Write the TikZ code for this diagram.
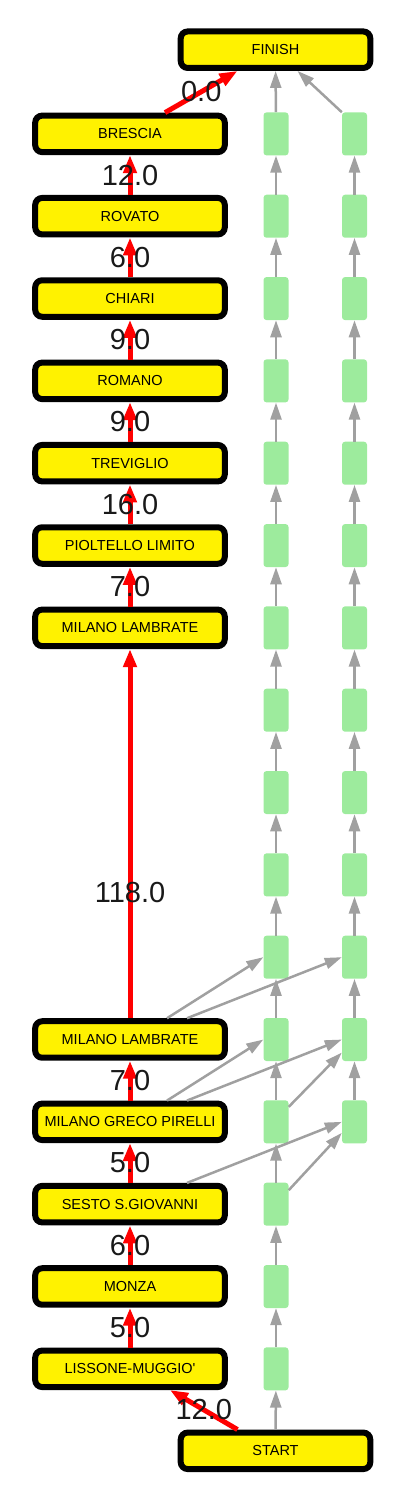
\documentclass[tikz,border=0pt]{standalone}
\usepackage{fontspec}
\setmainfont{Liberation Sans}
\usetikzlibrary{arrows.meta,positioning}
\definecolor{slotgreen}{RGB}{157,235,157}
\definecolor{linkgray}{RGB}{160,160,160}
\tikzset{
    %Define style for station boxes
    station/.style={
           rectangle,
           rounded corners=7pt,
           draw=black, line width=6pt,
           fill=yellow,
           minimum width=189.6pt,
           minimum height=36.5pt,
           text centered,
           font=\fontsize{14.5}{16}\selectfont},
    % Define style for the small boxes
    slot/.style={rectangle,rounded corners=3pt,fill=slotgreen,minimum width=25pt,minimum height=43pt,inner sep=0pt},
    % Define arrow styles
    route/.style={
	   ->,
	   >={Triangle[length=18pt,width=13pt]},
	   color=red,
           line width=5pt},
    link/.style={
	   ->,
	   >={Triangle[length=17pt,width=11pt]},
	   color=linkgray,
           line width=2.5pt},
    dist/.style={font=\fontsize{29}{30}\selectfont,text=black!90}
}

\begin{document}
\begin{tikzpicture}[x=1pt,y=1pt,node distance=39.83pt]
  \useasboundingbox (0,0) rectangle (412,-1497);
  % green boxes
  \foreach \i in {0,...,15}
    \node[slot] (g\i) at (276,{-(133.9+82.33*\i)}) {};
  \foreach \i in {0,...,12}
    \node[slot] (h\i) at (354.5,{-(133.9+82.33*\i)}) {};
  % stations
  \node[station] (finish) at (275.5,-49.7) {FINISH};
  \node[station] (start) at (275.5,-1450.8) {START};
  \node[station] (lis) at (130,-1368.8) {LISSONE-MUGGIO\textquotesingle};
  \node[station] (mon) [above=of lis] {MONZA};
  \node[station] (ses) [above=of mon] {SESTO S.GIOVANNI};
  \node[station] (gre) [above=of ses] {MILANO GRECO PIRELLI};
  \node[station] (lamb) [above=of gre] {MILANO LAMBRATE};
  \node[station] (lam) [above=369.15pt of lamb] {MILANO LAMBRATE};
  \node[station] (pio) [above=of lam] {PIOLTELLO LIMITO};
  \node[station] (tre) [above=of pio] {TREVIGLIO};
  \node[station] (rom) [above=of tre] {ROMANO};
  \node[station] (chi) [above=of rom] {CHIARI};
  \node[station] (rov) [above=of chi] {ROVATO};
  \node[station] (bre) [above=of rov] {BRESCIA};
  % grey links
  \foreach \i [evaluate=\i as \j using int(\i+1)] in {0,...,14}
    \draw[link] (g\j) -- (g\i);
  \foreach \i [evaluate=\i as \j using int(\i+1)] in {0,...,11}
    \draw[link] (h\j) -- (h\i);
  \path[link]
    (start) edge (g15)
    (g0) edge (finish)
    (h0.north west) edge ([xshift=22pt]finish.south)
    ([xshift=37pt]lamb.north) edge (g10.west)
    ([xshift=57pt]lamb.north) edge (h10.west)
    ([xshift=37pt]gre.north) edge (g11.west)
    ([xshift=57pt]gre.north) edge (h11.west)
    ([xshift=57pt]ses.north) edge (h12.west)
    ([yshift=15pt]g12.east) edge ([yshift=-13pt]h11.west)
    ([yshift=14pt]g13.east) edge ([yshift=-11pt]h12.west);
  % red route
  \path[route]
    ([xshift=-38pt]start.north) edge node[dist] {12.0} ([xshift=40pt]lis.south)
    (lis) edge node[dist] {5.0} (mon)
    (mon) edge node[dist] {6.0} (ses)
    (ses) edge node[dist] {5.0} (gre)
    (gre) edge node[dist] {7.0} (lamb)
    (lamb) edge node[dist,pos=0.34] {118.0} (lam)
    (lam) edge node[dist] {7.0} (pio)
    (pio) edge node[dist] {16.0} (tre)
    (tre) edge node[dist] {9.0} (rom)
    (rom) edge node[dist] {9.0} (chi)
    (chi) edge node[dist] {6.0} (rov)
    (rov) edge node[dist] {12.0} (bre)
    ([xshift=35pt]bre.north) edge node[dist] {0.0} ([xshift=-38pt]finish.south);
\end{tikzpicture}
\end{document}
